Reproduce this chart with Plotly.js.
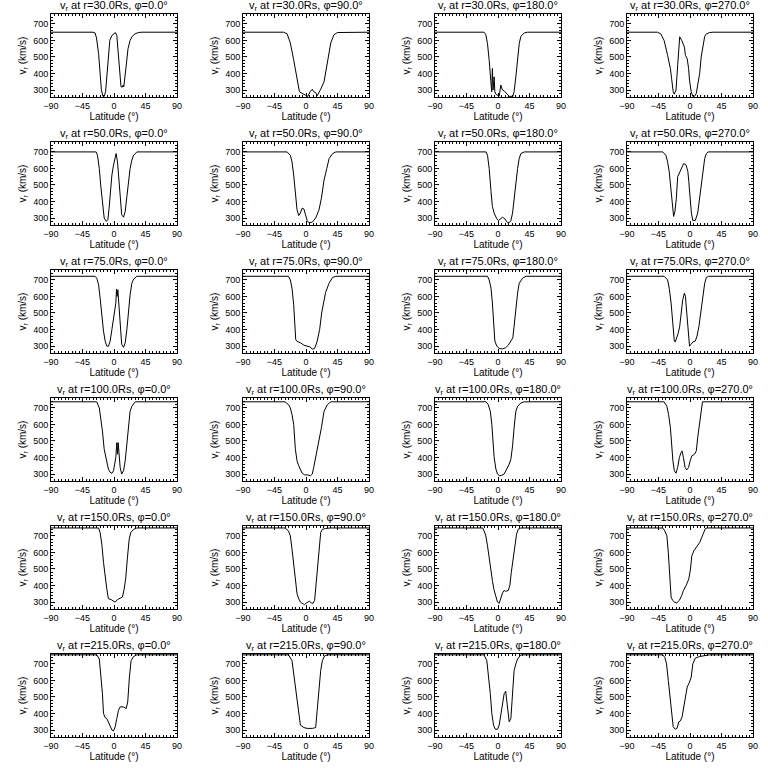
<!DOCTYPE html>
<html><head><meta charset="utf-8">
<script src="https://cdn.plot.ly/plotly-3.0.1.min.js"></script>
<style>html,body{margin:0;padding:0;background:#fff}#chart{width:768px;height:768px}</style>
</head><body><div id="chart"></div>
<script>
const radii = ["30.0","50.0","75.0","100.0","150.0","215.0"];
const phis = ["0.0","90.0","180.0","270.0"];
const xTickVals = [-90,-45,0,45,90];
const xTickText = ["\u221290","\u221245","0","45","90"];
const yTickVals = [300,400,500,600,700];

// r = 30 Rs
const lat_30_0 = [-90,-30,-27,-25,-22,-20,-18,-16,-14,-12,-10,-8,-6,-3,0,2,4,6,8,10,12,13,14,16,18,20,23,26,30,35,40,90];
const v_30_0   = [650,650,645,615,520,400,300,265,262,290,400,520,600,630,640,648,630,520,380,320,318,330,320,380,470,550,600,625,640,648,650,650];
const lat_30_90 = [-90,-32,-27,-22.4,-17.6,-12.8,-9.4,-5.5,-0.7,2.6,6,9,11,13.8,16,18,21,25.8,30.6,35.4,40,45,90];
const v_30_90   = [650,650,640,585,483,360,290,280,272,262,290,305,290,285,265,280,305,350,463,585,635,648,650];
const lat_30_180 = [-90,-20,-17.4,-15,-12.6,-10,-9,-8,-7,-5.5,-4.5,-3,-0.7,1.7,4,6.4,8.8,11,13.6,16,21,23,25.5,28,30.3,32.7,37.5,42,90];
const v_30_180   = [650,650,635,580,480,350,290,430,300,380,290,275,270,262,330,300,295,285,270,262,262,290,380,480,580,625,645,650,650];
const lat_30_270 = [-90,-46.6,-41.8,-37,-32,-28,-26.3,-24,-22.4,-20,-17.6,-15.7,-14.7,-11.8,-8,-6.5,-4,-2,-0.7,1.7,4,6.5,9,11,13.8,16,18.6,21,23.4,28,33,90];
const v_30_270   = [650,650,640,600,510,430,370,290,275,300,450,600,622,600,560,510,490,430,360,290,262,262,280,330,400,500,580,625,640,648,650,650];

// r = 50 Rs
const lat_50_0 = [-90,-25.5,-23.6,-21,-19,-16.5,-14,-11,-8.8,-7,-5.5,-3,-0.7,1.7,3,5,7,8.8,11,13.6,16,18.4,20.8,23,25.5,28,32.7,90];
const v_50_0   = [700,700,680,600,500,380,300,280,290,360,450,560,620,680,690,640,520,420,320,305,340,430,520,600,650,680,700,700];
const lat_50_90 = [-90,-27,-22.4,-20,-17.6,-15.2,-12.8,-10.4,-8,-5.5,-3,-0.7,1.7,4,9,13.8,18.6,22,25.8,29.7,33,38,42.7,90];
const v_50_90   = [700,700,680,640,560,450,350,315,330,360,355,320,285,272,275,300,350,420,530,600,660,690,700,700];
const lat_50_180 = [-90,-17,-15,-12.6,-10,-8,-5.5,-1.7,0.7,4,6.4,9.8,13.6,16,18.4,20.8,23,25.5,28,30.3,32.7,37.5,90];
const v_50_180   = [700,700,680,600,460,370,330,295,285,300,305,295,272,272,285,330,420,510,600,660,690,700,700];
const lat_50_270 = [-90,-39,-34.5,-32,-29.7,-27,-24.8,-23.4,-21.5,-19.5,-17.6,-15.2,-11.3,-9,-5.5,-3,-1.7,0.2,2,4,7.5,11,13.8,16,18.6,21,23.4,25.8,90];
const v_50_270   = [700,700,680,640,580,480,380,310,340,420,550,575,610,630,620,580,520,420,330,285,285,330,420,520,600,660,690,700,700];

// r = 75 Rs
const lat_75_0 = [-90,-27,-24.6,-22,-19.8,-17.4,-15,-12.6,-10.3,-8,-5.5,-3,-0.7,0.7,2.6,3.6,4.5,5.5,6.9,8.8,11,13.6,16,18.4,20.8,23,25.5,28,32.7,90];
const v_75_0   = [722,722,710,670,590,480,390,330,300,298,330,400,470,500,560,645,600,640,540,400,310,292,320,400,520,610,680,705,722,722];
const lat_75_90 = [-90,-25,-22.4,-20,-17.6,-16,-14.7,-12.8,-8,-3,1.7,5.5,9,12.3,16,19.5,22.4,25.8,28,33,38,42.7,90];
const v_75_90   = [722,722,700,650,550,450,340,328,320,305,300,295,282,285,330,400,500,580,625,680,715,722,722];
const lat_75_180 = [-90,-15,-12.6,-10,-8,-6.4,-4.5,-1.7,1.7,6.4,11,14.6,18.4,21.2,23,25.5,28,30.3,35,40,90];
const v_75_180   = [722,722,700,650,560,450,330,300,285,283,290,305,330,350,420,530,620,680,710,722,722];
const lat_75_270 = [-90,-37,-32,-29.7,-27,-24.8,-22.4,-21,-19,-16.7,-14.7,-12.8,-10.4,-8,-6.5,-4.6,-2,-0.7,1.7,4,7.5,10,12.8,15,18.6,21,23.4,26.8,90];
const v_75_270   = [722,722,700,650,560,450,330,325,350,380,420,500,580,620,600,500,360,300,310,325,330,360,420,500,600,680,715,722,722];

// r = 100 Rs
const lat_100_0 = [-90,-24.6,-21,-19,-16.5,-14,-11,-8,-5.5,-3,-0.7,0.7,2.6,4,5,6,7,8.8,11,13.6,16,18.4,20.8,23,25.5,30.3,90];
const v_100_0   = [737,737,700,640,560,450,380,330,310,305,320,350,400,490,420,490,420,340,300,320,380,470,580,680,710,737,737];
const lat_100_90 = [-90,-30,-25,-22.4,-20,-17.6,-15.2,-12.8,-10.4,-8,-5.5,-2,1.7,6.5,9,11,13.8,18.6,22,25.8,30.6,35.4,90];
const v_100_90   = [737,737,720,700,660,600,450,380,350,330,305,295,295,290,300,340,400,500,580,680,720,737,737];
const lat_100_180 = [-90,-17,-14,-11,-8.8,-7,-5.5,-3,-0.7,1.7,5,8.8,12.7,16,18.4,20.8,23,25.5,28,32.7,37.5,90];
const v_100_180   = [737,737,720,680,600,500,400,330,300,290,292,300,330,360,390,470,580,680,710,730,737,737];
const lat_100_270 = [-90,-37,-33,-30.6,-28,-26.3,-24.4,-22.4,-20,-17.6,-15.2,-12.8,-11.3,-9.4,-7,-4.6,-2,0.2,2.6,6.5,9,11,13.8,16,17.8,90];
const v_100_270   = [737,737,710,660,580,480,380,320,305,340,400,430,440,400,340,325,340,380,410,420,440,520,600,680,737,737];

// r = 150 Rs
const lat_150_0 = [-90,-22,-19.8,-17.4,-15,-12.6,-10.3,-8,-4,-0.7,1.7,5,8.8,12,14.6,16.9,19,21.7,24,28,32.7,90];
const v_150_0   = [748,748,720,650,540,440,380,320,315,305,300,315,325,330,380,450,560,680,720,740,748,748];
const lat_150_90 = [-90,-30,-25,-22.4,-20,-17.6,-15.2,-12.8,-10.4,-8,-4.6,-2,0.7,3,5,7.5,10,12.3,13.8,16,18.6,21,23.4,28,35.4,90];
const v_150_90   = [748,748,730,700,620,540,430,350,320,300,290,285,295,300,305,295,292,310,380,500,640,720,740,745,748,748];
const lat_150_180 = [-90,-22,-19.8,-17.4,-15,-12.6,-10.3,-8,-5.5,-3,-0.7,1.7,4,6.4,8.8,11,14.6,16.9,19,21.7,24,26.5,28.7,32.7,90];
const v_150_180   = [748,748,730,700,640,560,500,430,370,330,300,292,320,355,370,365,370,400,480,560,640,710,740,748,748];
const lat_150_270 = [-90,-39,-36,-33,-31,-29,-27,-24.8,-22.4,-19,-15.2,-11.8,-9.4,-5.5,-1.7,0.7,2.6,5.5,9,13.8,18.6,22,25,90];
const v_150_270   = [748,748,730,700,600,450,330,310,300,295,310,340,370,400,440,500,580,610,630,660,710,745,748,748];

// r = 215 Rs
const lat_215_0 = [-90,-24.6,-21,-19,-16.5,-15,-12.6,-10.3,-8,-5.5,-3,-0.7,1.7,4,6.4,8.8,13.6,17.4,19.6,22,24.4,28,32.7,90];
const v_215_0   = [755,755,730,650,520,400,375,370,350,330,300,295,320,370,420,440,440,430,470,620,720,745,755,755];
const lat_215_90 = [-90,-25,-20,-17.6,-15.2,-12.8,-10.4,-8,-3,1.7,9,13.8,16,18.6,21,23.4,26.8,30.6,90];
const v_215_90   = [755,755,720,640,540,460,380,330,315,310,310,315,420,560,660,720,750,755,755];
const lat_215_180 = [-90,-20,-16,-13.6,-11,-8.8,-6.4,-4,-0.7,1.7,4,6.4,8.8,11,12.5,14.6,16,18.4,20.8,23,25.5,28,32.7,90];
const v_215_180   = [755,755,720,640,520,400,330,305,305,330,390,450,520,535,480,400,350,370,500,660,700,730,755,755];
const lat_215_270 = [-90,-39,-36,-33.5,-31,-28.7,-26.3,-24,-21,-18.6,-16,-13.8,-11.3,-9,-6.5,-4,-0.7,1.7,4,7.5,13.8,21,28,90];
const v_215_270   = [755,755,740,700,600,500,400,320,305,310,350,355,380,430,500,560,590,620,700,735,745,752,755,755];

const panelData = [
  [lat_30_0, v_30_0], [lat_30_90, v_30_90], [lat_30_180, v_30_180], [lat_30_270, v_30_270],
  [lat_50_0, v_50_0], [lat_50_90, v_50_90], [lat_50_180, v_50_180], [lat_50_270, v_50_270],
  [lat_75_0, v_75_0], [lat_75_90, v_75_90], [lat_75_180, v_75_180], [lat_75_270, v_75_270],
  [lat_100_0, v_100_0], [lat_100_90, v_100_90], [lat_100_180, v_100_180], [lat_100_270, v_100_270],
  [lat_150_0, v_150_0], [lat_150_90, v_150_90], [lat_150_180, v_150_180], [lat_150_270, v_150_270],
  [lat_215_0, v_215_0], [lat_215_90, v_215_90], [lat_215_180, v_215_180], [lat_215_270, v_215_270]
];

const W = 768, H = 768;
const colLeft = [51, 243, 435, 627];
const plotW = 126;
const rowTop = [14, 142, 270, 398, 526, 654];
const plotH = 83;
const FONT = "Liberation Sans";

const traces = [];
const layout = {
  width: W, height: H,
  margin: {l: 0, r: 0, t: 0, b: 0},
  paper_bgcolor: "#fff", plot_bgcolor: "#fff",
  showlegend: false,
  font: {family: FONT, color: "#000", size: 9},
  annotations: []
};

panelData.forEach((pd, k) => {
  const r = Math.floor(k / 4), c = k % 4;
  const sfx = k === 0 ? "" : String(k + 1);
  traces.push({
    x: pd[0], y: pd[1], type: "scatter", mode: "lines",
    line: {color: "#000", width: 1},
    xaxis: "x" + sfx, yaxis: "y" + sfx, hoverinfo: "skip"
  });
  const x0 = colLeft[c] / W, x1 = (colLeft[c] + plotW) / W;
  const y1 = 1 - rowTop[r] / H, y0 = 1 - (rowTop[r] + plotH) / H;
  layout["xaxis" + sfx] = {
    domain: [x0, x1], anchor: "y" + sfx, range: [-90, 90],
    tickvals: xTickVals, ticktext: xTickText,
    ticks: "inside", ticklen: 4, tickcolor: "#000", tickwidth: 1,
    mirror: "allticks", showline: true, linecolor: "#000", linewidth: 1,
    showgrid: false, zeroline: false,
    minor: {ticks: "inside", ticklen: 2, dtick: 5, tickcolor: "#000", showgrid: false},
    tickfont: {family: FONT, size: 9, color: "#000"},
    title: {text: "Latitude (\u00B0)", font: {family: FONT, size: 10, color: "#000"}, standoff: 2}
  };
  layout["yaxis" + sfx] = {
    domain: [y0, y1], anchor: "x" + sfx, range: [258, 760],
    tickvals: yTickVals,
    ticks: "inside", ticklen: 4, tickcolor: "#000", tickwidth: 1,
    mirror: "allticks", showline: true, linecolor: "#000", linewidth: 1,
    showgrid: false, zeroline: false,
    minor: {ticks: "inside", ticklen: 2, dtick: 20, tickcolor: "#000", showgrid: false},
    tickfont: {family: FONT, size: 9, color: "#000"},
    title: {text: "v<sub>r</sub> (km/s)", font: {family: FONT, size: 10, color: "#000"}, standoff: 4}
  };
  layout.annotations.push({
    xref: "paper", yref: "paper",
    x: (colLeft[c] + plotW / 2) / W, y: 1 - (rowTop[r] - 8) / H,
    xanchor: "center", yanchor: "middle", showarrow: false,
    text: "v<sub>r</sub> at r=" + radii[r] + "Rs, \u03C6=" + phis[c] + "\u00B0",
    font: {family: FONT, size: 11, color: "#000"}
  });
});

Plotly.newPlot("chart", traces, layout, {staticPlot: true});
</script>
</body></html>
